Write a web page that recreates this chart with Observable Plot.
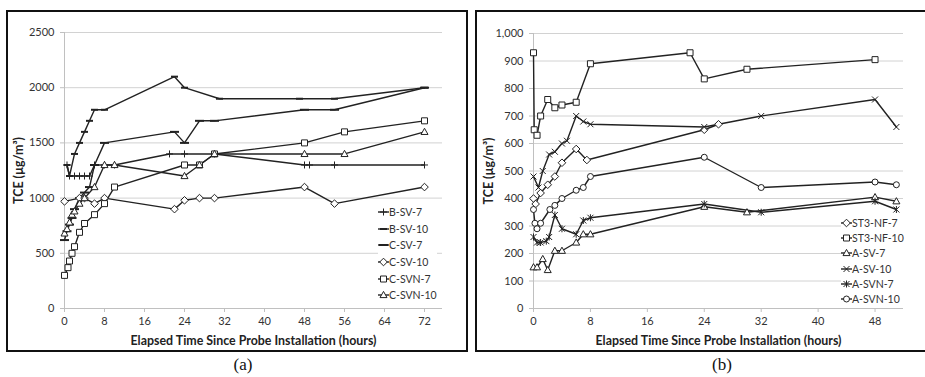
<!DOCTYPE html>
<html><head><meta charset="utf-8">
<script src="https://cdn.jsdelivr.net/npm/d3@7"></script>
<script src="https://cdn.jsdelivr.net/npm/@observablehq/plot@0.6"></script>
<style>
html,body{margin:0;padding:0;background:#fff;}
#page{position:relative;width:925px;height:377px;overflow:hidden;background:#fff;font-family:Lato,"Liberation Sans",sans-serif;}
.panel{position:absolute;top:0;}
.frame{position:absolute;border:2px solid #111;box-sizing:border-box;}
.legend{position:absolute;background:#fff;font-size:10.5px;color:#333;}
.legend .row{display:flex;align-items:center;white-space:nowrap;}
.legend svg{display:block;flex:none;}
.cap{position:absolute;font-family:"Liberation Serif","DejaVu Serif",serif;font-size:17px;line-height:20px;transform:translateX(-50%);color:#111;}
g[aria-label="x-axis label"], g[aria-label="y-axis label"]{font-weight:bold;font-size:12.4px;fill:#222;}
</style></head><body><div id="page"></div>
<script>
// ---------- Panel (a) data: [hours, TCE µg/m³] ----------
const BSV7   = [[0.5,1300],[1,1200],[2,1200],[3,1200],[4,1200],[5,1200],[6,1300],[8,1300],[10,1300],[21,1400],[24,1400],[30,1400],[48,1300],[49,1300],[54,1300],[72,1300]];
const BSV10  = [[0.5,1300],[1,1200],[2,1400],[3,1500],[4,1600],[5,1700],[6,1800],[8,1800],[22,2100],[24,2000],[31,1900],[47,1900],[54,1900],[72,2000]];
const CSV7   = [[0,620],[0.5,700],[1,760],[1.5,820],[2,900],[3,1000],[4,1050],[5,1100],[6,1300],[8,1500],[22,1600],[24,1500],[27,1700],[30,1700],[48,1800],[54,1800],[72,2000]];
const CSV10  = [[0,970],[3,1000],[4,1000],[6,950],[8,1000],[22,900],[24,980],[27,1000],[30,1000],[48,1100],[54,950],[72,1100]];
const CSVN7  = [[0,300],[0.7,370],[1,430],[1.5,500],[2,560],[3,690],[4,770],[6,850],[8,950],[10,1100],[24,1300],[27,1300],[30,1400],[48,1500],[56,1600],[72,1700]];
const CSVN10 = [[0,680],[0.5,720],[1,780],[1.5,850],[2,880],[3,950],[4,1000],[6,1100],[8,1300],[10,1300],[24,1200],[27,1300],[30,1400],[48,1400],[56,1400],[72,1600]];
const xTicksA = [0,8,16,24,32,40,48,56,64,72];
const yTicksA = [0,500,1000,1500,2000,2500];

// ---------- Panel (b) data ----------
const ST3NF7  = [[0,400],[0.3,380],[1,420],[2,450],[3,480],[4,530],[6,580],[7.5,540],[24,650],[26,670]];
const ST3NF10 = [[0,930],[0.1,650],[0.5,630],[1,700],[2,760],[3,730],[4,740],[6,750],[8,890],[22,930],[24,835],[30,870],[48,905]];
const ASV7    = [[0,150],[0.5,150],[1.3,180],[2,140],[3,210],[4,210],[6,240],[7,270],[8,270],[24,370],[30,350],[48,405],[51,390]];
const ASV10   = [[0,480],[0.7,440],[1.3,500],[2.2,560],[3,570],[4,600],[4.7,610],[6,700],[7,680],[8,670],[24,660],[32,700],[48,760],[51,660]];
const ASVN7   = [[0,260],[0.5,240],[1,240],[1.8,245],[2.2,260],[3,340],[4,290],[6,270],[7,320],[8,330],[24,380],[32,350],[48,390],[51,360]];
const ASVN10  = [[0,360],[0.2,310],[0.5,290],[1,310],[2.3,360],[3,375],[4,400],[6,430],[7,440],[8,480],[24,550],[32,440],[48,460],[51,450]];
const xTicksB = [0,8,16,24,32,40,48];
const yTicksB = [0,100,200,300,400,500,600,700,800,900,1000];

// ---------- marker shapes ----------
const S = {
  plus:{draw(c){c.moveTo(-3.5,0);c.lineTo(3.5,0);c.moveTo(0,-3.5);c.lineTo(0,3.5);}},
  dash:{draw(c){c.rect(-3.5,-1,7,2);}},
  longDash:{draw(c){c.rect(-4.5,-1,9,2);}},
  diamond:{draw(c){c.moveTo(0,-3.8);c.lineTo(3.8,0);c.lineTo(0,3.8);c.lineTo(-3.8,0);c.closePath();}},
  square:{draw(c){c.rect(-3,-3,6,6);}},
  triangle:{draw(c){c.moveTo(0,-3.6);c.lineTo(3.5,2.6);c.lineTo(-3.5,2.6);c.closePath();}},
  times:{draw(c){c.moveTo(-3,-3);c.lineTo(3,3);c.moveTo(3,-3);c.lineTo(-3,3);}},
  star:{draw(c){c.moveTo(-3,-3);c.lineTo(3,3);c.moveTo(3,-3);c.lineTo(-3,3);c.moveTo(0,-3.5);c.lineTo(0,3.5);}},
  circle:{draw(c){c.moveTo(3,0);c.arc(0,0,3,0,2*Math.PI);}}
};
const INK = "#222";
const seriesA = [
  {name:"B-SV-7",   data:BSV7,   sym:S.plus,     fill:"none", stroke:INK},
  {name:"B-SV-10",  data:BSV10,  sym:S.dash,     fill:INK,    stroke:"none"},
  {name:"C-SV-7",   data:CSV7,   sym:S.longDash, fill:INK,    stroke:"none"},
  {name:"C-SV-10",  data:CSV10,  sym:S.diamond,  fill:"#fff", stroke:INK},
  {name:"C-SVN-7",  data:CSVN7,  sym:S.square,   fill:"#fff", stroke:INK},
  {name:"C-SVN-10", data:CSVN10, sym:S.triangle, fill:"#fff", stroke:INK}
];
const seriesB = [
  {name:"ST3-NF-7",  data:ST3NF7,  sym:S.diamond,  fill:"#fff", stroke:INK},
  {name:"ST3-NF-10", data:ST3NF10, sym:S.square,   fill:"#fff", stroke:INK},
  {name:"A-SV-7",    data:ASV7,    sym:S.triangle, fill:"#fff", stroke:INK},
  {name:"A-SV-10",   data:ASV10,   sym:S.times,    fill:"none", stroke:INK},
  {name:"A-SVN-7",   data:ASVN7,   sym:S.star,     fill:"none", stroke:INK},
  {name:"A-SVN-10",  data:ASVN10,  sym:S.circle,   fill:"#fff", stroke:INK}
];

function seriesMarks(series){
  const m = [];
  for (const s of series) m.push(Plot.line(s.data, {x:d=>d[0], y:d=>d[1], stroke:INK, strokeWidth:1.4}));
  for (const s of series) m.push(Plot.dot(s.data, {x:d=>d[0], y:d=>d[1], symbol:s.sym, r:3, fill:s.fill, stroke:s.stroke, strokeWidth:1}));
  return m;
}

function panel(opts){
  return Plot.plot({
    width: opts.width, height: 350,
    marginLeft: opts.ml, marginRight: opts.mr, marginTop: opts.mt, marginBottom: 42,
    style: {fontFamily: "Lato, 'Liberation Sans', sans-serif", fontSize: "11px", color: "#333", background: "transparent", overflow: "visible"},
    x: {domain: opts.xDomain},
    y: {domain: opts.yDomain},
    marks: [
      Plot.gridY(opts.yTicks, {stroke: "#d2d2d2", strokeOpacity: 1}),
      Plot.ruleX([0], {stroke: "#c0c0c0"}),
      Plot.ruleY([0], {stroke: "#c0c0c0"}),
      Plot.axisY(opts.yTicks, {tickSize: 4, tickPadding: 6, stroke: "#c0c0c0", tickFormat: opts.yFormat,
        label: "TCE (µg/m³)", labelAnchor: "center", labelArrow: "none", labelOffset: opts.ylo}),
      Plot.axisX(opts.xTicks, {tickSize: 4, tickPadding: 5, stroke: "#c0c0c0",
        label: "Elapsed Time Since Probe Installation (hours)", labelAnchor: "center", labelArrow: "none", labelOffset: 36}),
      ...seriesMarks(opts.series)
    ]
  });
}

function legend(series, left, top, rowH){
  const div = document.createElement("div");
  div.className = "legend";
  div.style.left = left + "px"; div.style.top = top + "px";
  for (const s of series){
    const row = document.createElement("div");
    row.className = "row"; row.style.height = rowH + "px";
    const sv = d3.create("svg").attr("width", 11).attr("height", 10);
    sv.append("line").attr("x1",0).attr("x2",11).attr("y1",5).attr("y2",5).attr("stroke",INK).attr("stroke-width",1.4);
    sv.append("path").attr("transform","translate(5.5,5)").attr("d", d3.symbol().type(s.sym)())
      .attr("fill", s.fill).attr("stroke", s.stroke).attr("stroke-width",1);
    row.appendChild(sv.node());
    const t = document.createElement("span"); t.textContent = s.name; row.appendChild(t);
    div.appendChild(row);
  }
  return div;
}

const page = document.getElementById("page");
function place(el, left, top, width){
  const w = document.createElement("div"); w.className = "panel";
  w.style.left = left + "px"; w.style.top = top + "px"; w.style.width = width + "px";
  w.appendChild(el); page.appendChild(w);
}

place(panel({width:462, ml:64, mr:20, mt:32, xDomain:[0,75.6], yDomain:[0,2500], xTicks:xTicksA, yTicks:yTicksA, yFormat:d3.format("d"), ylo:50, series:seriesA}), 0, 0, 462);
place(panel({width:455, ml:63, mr:22, mt:33, xDomain:[0,52], yDomain:[0,1000], xTicks:xTicksB, yTicks:yTicksB, yFormat:d3.format(","), ylo:49, series:seriesB}), 470, 0, 455);

page.appendChild(legend(seriesA, 378, 204, 16.6));
page.appendChild(legend(seriesB, 841, 215, 15.3));

const f1 = document.createElement("div"); f1.className = "frame";
Object.assign(f1.style, {left:"6px", top:"10px", width:"462px", height:"342px"}); page.appendChild(f1);
const f2 = document.createElement("div"); f2.className = "frame";
Object.assign(f2.style, {left:"475px", top:"10px", width:"470px", height:"342px"}); page.appendChild(f2);

const ca = document.createElement("div"); ca.className = "cap"; ca.textContent = "(a)";
Object.assign(ca.style, {left:"243px", top:"355px"}); page.appendChild(ca);
const cb = document.createElement("div"); cb.className = "cap"; cb.textContent = "(b)";
Object.assign(cb.style, {left:"722px", top:"355px"}); page.appendChild(cb);
</script></body></html>
